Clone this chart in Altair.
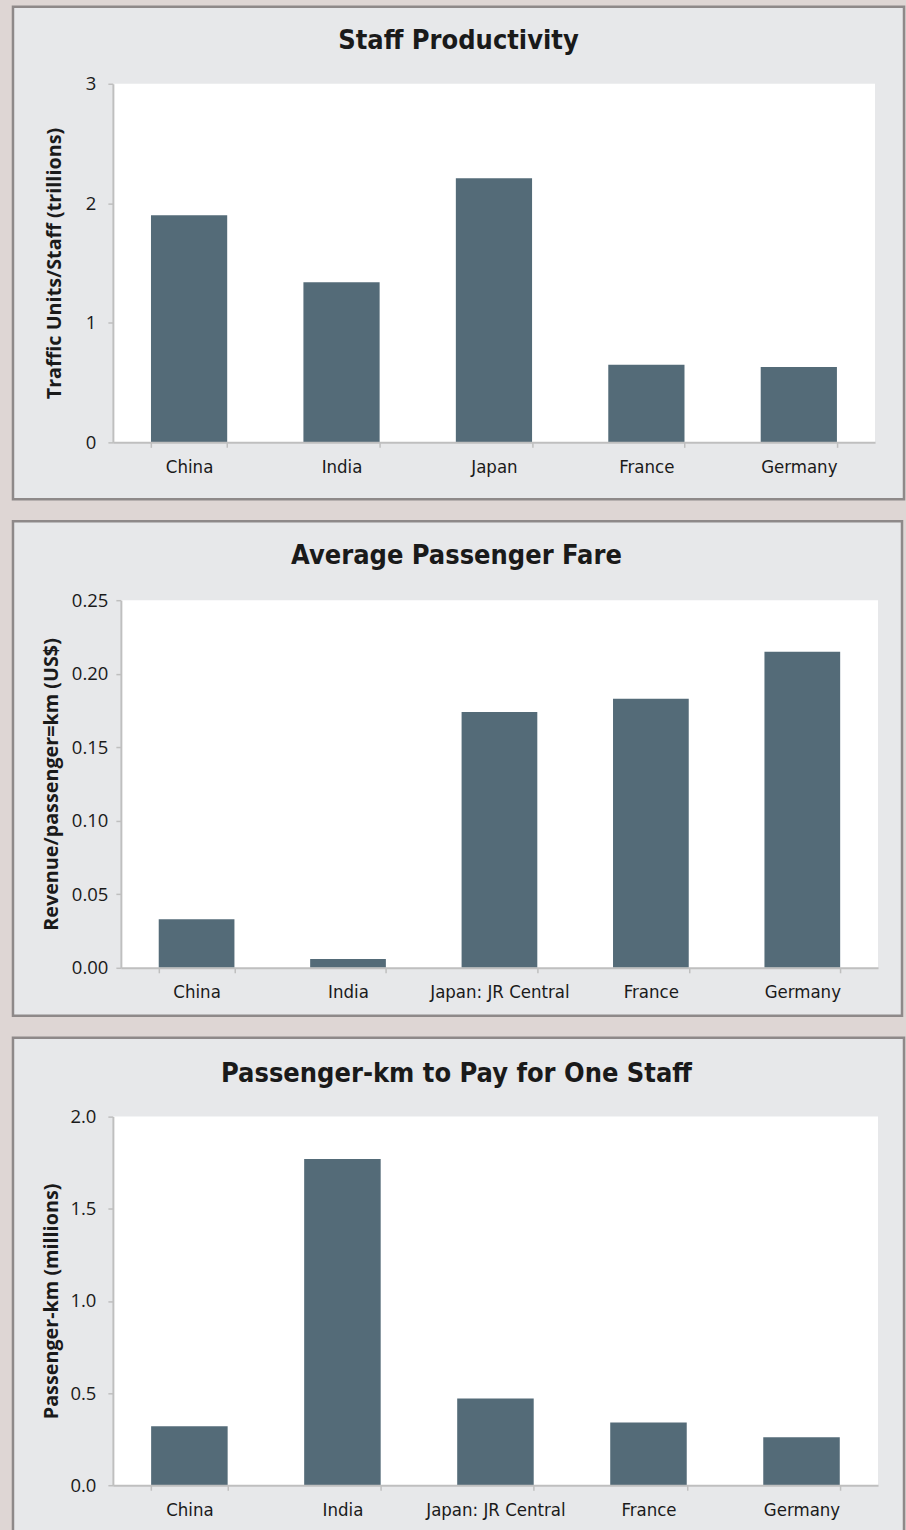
import altair as alt
import pandas as pd

# ---- data ----
countries_1 = ["China", "India", "Japan", "France", "Germany"]
productivity = [1.90, 1.34, 2.21, 0.65, 0.63]

countries_2 = ["China", "India", "Japan: JR Central", "France", "Germany"]
fare = [0.033, 0.006, 0.174, 0.183, 0.215]

countries_3 = ["China", "India", "Japan: JR Central", "France", "Germany"]
pkm_per_staff = [0.32, 1.77, 0.47, 0.34, 0.26]

titles = ["Staff Productivity", "Average Passenger Fare", "Passenger-km to Pay for One Staff"]
y_titles = ["Traffic Units/Staff (trillions)", "Revenue/passenger=km (US$)", "Passenger-km (millions)"]
ticks_1 = [0, 1, 2, 3]
ticks_2 = [0, 0.05, 0.10, 0.15, 0.20, 0.25]
ticks_3 = [0, 0.5, 1.0, 1.5, 2.0]

# ---- style ----
PAGE_BG = "#ded6d4"
PANEL_BG = "#e7e8ea"
BORDER = "#8e8989"
BAR = "#546b78"
AXIS = "#bfbfbf"
TEXT = "#1a1a1a"
TITLE_FONT = "DejaVu Sans Condensed"
LABEL_FONT = "DejaVu Sans Condensed"
NUM_FONT = "Open Sans"

W = 766   # common cell width
H = 369   # common cell height


def panel(cats, vals, title, ytitle, domain, ticks, fmt,
          x0, x1, h, right, top, bottom, title_cx, title_y, ytitle_x, ylab_pad):
    df = pd.DataFrame({"cat": cats, "val": vals})
    one = pd.DataFrame({"t": [title]})
    frame = alt.Chart(one).mark_rect(
        fill=PANEL_BG, stroke=BORDER, strokeWidth=2.5
    ).encode(
        x=alt.value(-100), x2=alt.value(right),
        y=alt.value(-top), y2=alt.value(bottom),
    )
    plot_bg = alt.Chart(one).mark_rect(fill="white").encode(
        x=alt.value(x0), x2=alt.value(x1), y=alt.value(0), y2=alt.value(h)
    )
    head = alt.Chart(one).mark_text(
        font=TITLE_FONT, fontSize=27, fontWeight="bold", color=TEXT,
        align="center", baseline="middle",
    ).encode(x=alt.value(title_cx), y=alt.value(title_y), text="t:N")
    bars = alt.Chart(df).mark_bar(color=BAR).encode(
        x=alt.X(
            "cat:N", sort=cats,
            scale=alt.Scale(range=[x0, x1], paddingInner=0.5, paddingOuter=0.25),
            axis=alt.Axis(
                title=None, labelAngle=0, tickBand="extent", offset=h - H,
                labelFont=LABEL_FONT, labelFontSize=18.5, labelColor=TEXT,
                labelPadding=10, tickSize=5, tickColor=AXIS, tickWidth=1.5,
                domainColor=AXIS, domainWidth=2, grid=False, zindex=1,
            ),
        ),
        y=alt.Y(
            "val:Q",
            scale=alt.Scale(domain=domain, range=[h, 0], nice=False, zero=True),
            axis=alt.Axis(
                values=ticks, format=fmt, title=ytitle, offset=-x0,
                titleFont=NUM_FONT, titleFontSize=19.8, titleFontWeight="bold",
                titleColor=TEXT, titleX=ytitle_x, titleY=h / 2,
                titleBaseline="middle", titleAngle=270,
                labelFont=NUM_FONT, labelFontSize=18.5, labelColor=TEXT,
                labelPadding=ylab_pad, tickSize=5, tickColor=AXIS, tickWidth=1.5,
                domainColor=AXIS, domainWidth=2, grid=False, zindex=1,
            ),
        ),
    )
    return alt.layer(frame, plot_bg, bars, head).properties(width=W, height=H)


# page geometry (cell origin at x=113): plot x-span, plot height, panel box edges
p1 = panel(countries_1, productivity, titles[0], y_titles[0], [0, 3], ticks_1, "d",
           0, 763, 359, 792, 77, 416, 346, -43, -58, 12)
p2 = panel(countries_2, fare, titles[1], y_titles[1], [0, 0.25], ticks_2, ".2f",
           8, 766, 368, 790, 79, 416, 344, -44, -69, 8)
p3 = panel(countries_3, pkm_per_staff, titles[2], y_titles[2], [0, 2], ticks_3, ".1f",
           0, 766, 369, 792, 79, 432, 344, -43, -61, 12)

chart = alt.vconcat(p1, p2, p3, spacing=517 - H, bounds="flush").properties(
    background=PAGE_BG,
    padding={"left": 11, "top": 4, "right": 0, "bottom": 0},
).configure_view(stroke=None)

chart.save("out.html", embed_options={"renderer": "svg", "actions": False})
